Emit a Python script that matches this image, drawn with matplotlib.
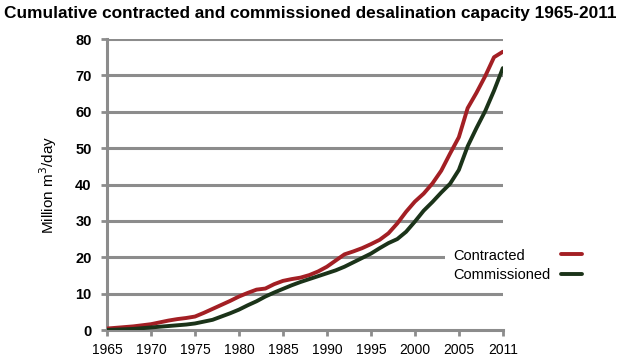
import matplotlib
matplotlib.use("Agg")
import matplotlib.pyplot as plt
from matplotlib.lines import Line2D
from matplotlib.patches import Rectangle

plt.rcParams['font.family'] = ['Liberation Sans', 'DejaVu Sans']

years = list(range(1965, 2011))
contracted = [0.4, 0.6, 0.8, 1.0, 1.3, 1.6, 2.1, 2.6, 3.0, 3.3,
              3.7, 4.7, 5.8, 6.9, 8.0, 9.2, 10.2, 11.1, 11.4, 12.6,
              13.5, 14.0, 14.4, 15.1, 16.1, 17.4, 19.1, 20.8, 21.6, 22.5,
              23.6, 24.8, 26.6, 29.3, 32.5, 35.3, 37.5, 40.3, 43.8, 48.5,
              53.0, 61.0, 65.2, 69.8, 75.0, 76.5]
commissioned = [0.0, 0.1, 0.2, 0.3, 0.5, 0.7, 0.9, 1.1, 1.3, 1.5,
                1.8, 2.3, 2.8, 3.7, 4.6, 5.6, 6.8, 7.9, 9.2, 10.3,
                11.3, 12.3, 13.2, 14.0, 14.8, 15.6, 16.4, 17.4, 18.6, 19.8,
                21.0, 22.5, 23.9, 25.0, 27.0, 29.8, 32.8, 35.2, 37.8, 40.2,
                44.0, 50.5, 55.5, 60.2, 65.8, 72.0]
tick_years = [1965, 1970, 1975, 1980, 1985, 1990, 1995, 2000, 2005, 2010]
tick_labels = ['1965', '1970', '1975', '1980', '1985', '1990', '1995', '2000', '2005', '2011']
y_ticks = [0, 10, 20, 30, 40, 50, 60, 70, 80]
series_names = ['Contracted', 'Commissioned']

grey = '#8c8c8c'
red = '#a31f24'
green = '#1b3319'
W, H = 620, 358

fig = plt.figure(figsize=(6.2, 3.58), dpi=100)
ax = fig.add_axes([0.1726, 0.0782, 0.811 - 0.1726, 0.8128])

for v in y_ticks[1:]:
    ax.axhline(v, color=grey, lw=2.2, zorder=1)

ax.plot(years, contracted, color=red, lw=2.8, solid_capstyle='round', zorder=3)
ax.plot(years, commissioned, color=green, lw=2.8, solid_capstyle='round', zorder=3)

ax.set_xlim(1965, 2010)
ax.set_ylim(0, 80)
ax.set_xticks(tick_years)
ax.set_xticklabels(tick_labels, fontsize=10)
ax.set_yticks(y_ticks)
ax.set_yticklabels([str(v) for v in y_ticks], fontsize=10.5, fontweight='bold')

for s in ['top', 'right']:
    ax.spines[s].set_visible(False)
for s in ['left', 'bottom']:
    ax.spines[s].set_color(grey)
    ax.spines[s].set_linewidth(2.2)
ax.tick_params(axis='both', colors=grey, width=2.0, length=4, labelcolor='black')
ax.tick_params(axis='y', pad=7)
ax.tick_params(axis='x', pad=5)

ax.set_ylabel('Million m$^3$/day', fontsize=11, labelpad=12)

fig.text(0.5, 0.962, 'Cumulative contracted and commissioned desalination capacity 1965-2011',
         ha='center', va='center', fontsize=12.4, fontweight='bold')

# Legend: white panel with left-aligned labels and line keys on the right
fig.patches.append(Rectangle((445 / W, 1 - 286 / H), 145 / W, 42 / H,
                             transform=fig.transFigure, facecolor='white',
                             edgecolor='none', zorder=5))
for name, col, ty, ly in [(series_names[0], red, 256.5, 253.5),
                          (series_names[1], green, 275, 274)]:
    fig.text(453 / W, 1 - ty / H, name, ha='left', va='center', fontsize=10.5, zorder=6)
    fig.lines.append(Line2D([561 / W, 582 / W], [1 - ly / H, 1 - ly / H],
                            transform=fig.transFigure, color=col, lw=2.8,
                            solid_capstyle='round', zorder=6))

fig.savefig('out.png', dpi=100)
